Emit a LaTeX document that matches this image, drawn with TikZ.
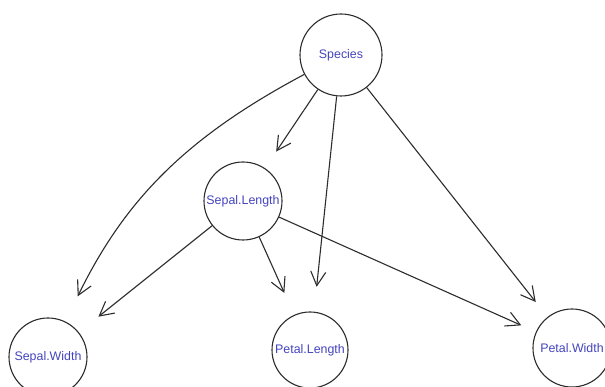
\documentclass[tikz,border=0pt]{standalone}
\usepackage{fontspec}
\setmainfont{Liberation Sans}
\usetikzlibrary{arrows.meta}
\definecolor{labelblue}{RGB}{68,68,190}
\definecolor{linegray}{RGB}{45,45,45}
\tikzset{
  varnode/.style={circle, draw=linegray, line width=1.1pt, fill=white, inner sep=0pt,
    text=labelblue, font=\fontsize{12.4}{14}\selectfont},
  edge/.style={draw=linegray, line width=1.1pt, -{Straight Barb[length=14pt,width=15pt,line width=1.1pt]}}
}
\begin{document}
\begin{tikzpicture}[x=1pt,y=-1pt]
\useasboundingbox (0,0) rectangle (605,387);
\clip (0,0) rectangle (605,387);
\fill[white] (0,0) rectangle (605,387);
\node[varnode, minimum size=82pt] (SP) at (341,55) {Species};
\node[varnode, minimum size=78pt] (SL) at (243,201) {Sepal.Length};
\node[varnode, minimum size=78pt] (SW) at (48,357) {Sepal.Width};
\node[varnode, minimum size=76pt] (PL) at (310,350) {Petal.Length};
\node[varnode, minimum size=78pt] (PW) at (572,348) {Petal.Width};
\draw[edge, shorten >=20pt] (SP) -- (SL);
\draw[edge, shorten >=25pt] (SP) -- (PL);
\draw[edge, shorten >=19pt] (SP) -- (PW);
\draw[edge, shorten >=28pt] (SP) to[bend right=18] (SW);
\draw[edge, shorten >=25pt] (SL) -- (SW);
\draw[edge, shorten >=24pt] (SL) -- (PL);
\draw[edge, shorten >=16pt] (SL) -- (PW);
\end{tikzpicture}
\end{document}
